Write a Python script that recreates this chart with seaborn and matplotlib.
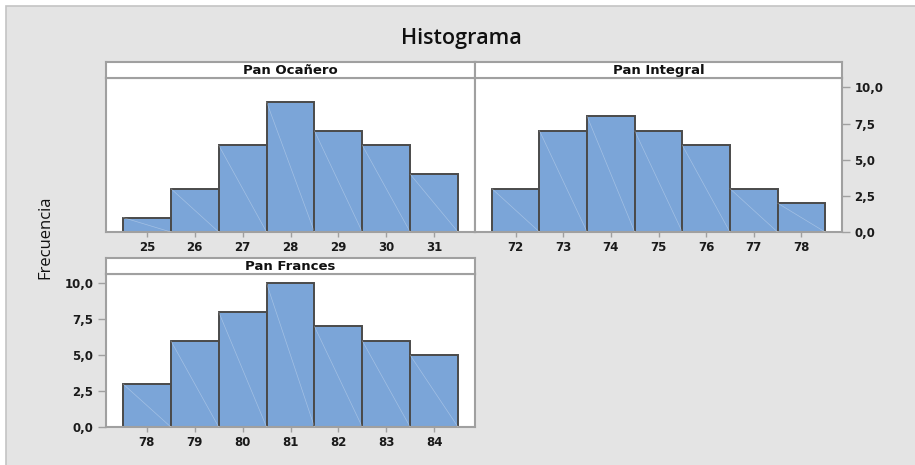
import numpy as np
import pandas as pd
import seaborn as sns
import matplotlib
matplotlib.use("Agg")
import matplotlib.pyplot as plt
from matplotlib.patches import Rectangle

# ---- data ----
titulo = "Histograma"
etiqueta_y = "Frecuencia"
paneles = ["Pan Ocañero", "Pan Integral", "Pan Frances"]
ocanero_x = [25, 26, 27, 28, 29, 30, 31]
ocanero_n = [1, 3, 6, 9, 7, 6, 4]
integral_x = [72, 73, 74, 75, 76, 77, 78]
integral_n = [3, 7, 8, 7, 6, 3, 2]
frances_x = [78, 79, 80, 81, 82, 83, 84]
frances_n = [3, 6, 8, 10, 7, 6, 5]
y_ticks = [0, 2.5, 5, 7.5, 10]

sns.set_style("white")
plt.rcParams["font.family"] = ["DejaVu Sans"]

W, H = 915, 465
fig = plt.figure(figsize=(W / 100, H / 100), dpi=100)
fig.patch.set_facecolor("white")
fig.patches.append(Rectangle((6 / W, -0.05), 1.2, 1.05 - 6 / H, transform=fig.transFigure,
                             facecolor="#e4e4e4", edgecolor="#c4c4c4", lw=1.2, zorder=-10))


def px(l, t, r, b):
    return [l / W, 1 - b / H, (r - l) / W, (b - t) / H]


GRAY = "#a0a0a0"
BAR = "#7ba5d8"
EDGE = "#4a4a4a"
TXT = "#1a1a1a"

specs = [
    (paneles[0], ocanero_x, ocanero_n, (106, 78, 475, 232), None),
    (paneles[1], integral_x, integral_n, (475, 78, 842, 232), "right"),
    (paneles[2], frances_x, frances_n, (106, 274, 475, 427), "left"),
]

for name, xs, ns, (l, t, r, b), yside in specs:
    ax = fig.add_axes(px(l, t, r, b))
    ax.set_facecolor("white")
    df = pd.DataFrame({"x": xs, "n": ns})
    sns.histplot(data=df, x="x", weights="n", discrete=True, ax=ax, color=BAR,
                 edgecolor=EDGE, linewidth=1.4, alpha=1, legend=False)
    for p in ax.patches:
        x0, w, h = p.get_x(), p.get_width(), p.get_height()
        ax.plot([x0, x0 + w], [h, 0], color="white", lw=0.5, alpha=0.3, zorder=3)
    ax.set_xlim(xs[0] - 0.5 - 0.355, xs[-1] + 0.5 + 0.355)
    ax.set_ylim(0, 10.65)
    ax.set_xticks(xs)
    ax.set_xticklabels([str(v) for v in xs])
    ax.set_xlabel("")
    ax.set_ylabel("")
    for s in ax.spines.values():
        s.set_color(GRAY)
        s.set_linewidth(1.5)
    ax.tick_params(axis="x", bottom=True, length=3.5, color=GRAY, width=1,
                   labelsize=8.5, pad=3, labelcolor=TXT)
    if yside is None:
        ax.set_yticks([])
    else:
        ax.set_yticks(y_ticks)
        ax.set_yticklabels([f"{v:.1f}".replace(".", ",") for v in y_ticks])
        if yside == "right":
            ax.yaxis.tick_right()
            ax.tick_params(axis="y", right=True, left=False)
        else:
            ax.tick_params(axis="y", left=True)
        ax.tick_params(axis="y", length=6, color=GRAY, width=1, labelsize=8.5,
                       pad=3, labelcolor=TXT)
    for lab in ax.get_xticklabels() + ax.get_yticklabels():
        lab.set_fontweight("bold")

    sax = fig.add_axes(px(l, t - 16, r, t))
    sax.set_facecolor("white")
    sax.set_xticks([])
    sax.set_yticks([])
    for s in sax.spines.values():
        s.set_color(GRAY)
        s.set_linewidth(1.5)
    sax.text(0.5, 0.45, name, ha="center", va="center", fontsize=9.5,
             fontweight="bold", color="#111111", transform=sax.transAxes)

fig.text(461 / W, 1 - 38 / H, titulo, ha="center", va="center", fontsize=15.5,
         color="#111111", fontweight="semibold", family=["Open Sans", "DejaVu Sans"])
fig.text(45 / W, 1 - 237 / H, etiqueta_y, ha="center", va="center", rotation=90,
         fontsize=12, color="#111111", family=["Open Sans", "DejaVu Sans"])

fig.savefig("out.png", dpi=100)
